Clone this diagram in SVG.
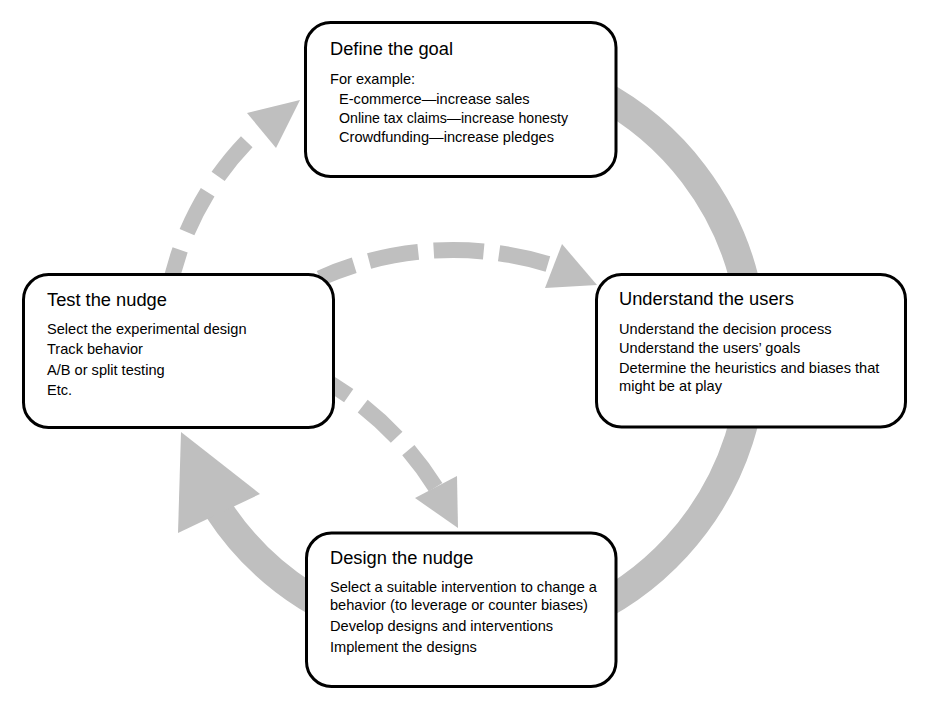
<svg xmlns="http://www.w3.org/2000/svg" width="929" height="710" viewBox="0 0 929 710">
  <style>
    .band { fill: none; stroke: #bfbfbf; stroke-width: 29; stroke-linecap: butt; }
    .dash { fill: none; stroke: #bfbfbf; stroke-width: 16; stroke-linecap: butt; }
    .head { fill: #bfbfbf; stroke: none; }
    .box { fill: #ffffff; stroke: #000000; stroke-width: 3; }
    .title { font-family: "Liberation Sans", Arial, sans-serif; font-size: 18.3px; fill: #000000; }
    .body { font-family: "Liberation Sans", Arial, sans-serif; font-size: 14.6px; fill: #000000; }
  </style>
  <rect x="0" y="0" width="929" height="710" fill="#ffffff"/>
  <g id="connectors">
    <!-- main solid cycle: Define -> Understand -> Design -> Test -->
    <path class="band" d="M 598.6 93.1 A 291 291 0 1 1 217.9 508.5"/>
    <polygon class="head" points="181,432 260,494 178,533"/>
    <!-- dashed: Test -> Define -->
    <path class="dash" d="M 260.3 128.4 A 301 301 0 0 0 167.6 297.7" stroke-dasharray="45 19" stroke-dashoffset="45"/>
    <polygon class="head" points="247,113 276,148 300,100"/>
    <!-- dashed: Test -> Understand -->
    <path class="dash" d="M 553.6 265.8 A 328 328 0 0 0 320 278.2" stroke-dasharray="50 15.5" stroke-dashoffset="59.5"/>
    <polygon class="head" points="562,244 545,288 597,285"/>
    <!-- dashed: Test -> Design -->
    <path class="dash" d="M 435.6 487.2 A 325 325 0 0 0 313.6 374" stroke-dasharray="46 17.5" stroke-dashoffset="0"/>
    <polygon class="head" points="415,498 457,476 458,528"/>
  </g>
  <g id="define">
    <rect class="box" x="305.5" y="22.5" width="310.5" height="154" rx="25" ry="25"/>
    <text class="title" x="330" y="55">Define the goal</text>
    <text class="body" x="330" y="84">For example:</text>
    <text class="body" x="339" y="103.5">E-commerce—increase sales</text>
    <text class="body" x="339" y="123" textLength="229" lengthAdjust="spacingAndGlyphs">Online tax claims—increase honesty</text>
    <text class="body" x="339" y="142">Crowdfunding—increase pledges</text>
  </g>
  <g id="test">
    <rect class="box" x="23.5" y="274.5" width="310" height="153" rx="25" ry="25"/>
    <text class="title" x="47" y="306">Test the nudge</text>
    <text class="body" x="47" y="334">Select the experimental design</text>
    <text class="body" x="47" y="354">Track behavior</text>
    <text class="body" x="47" y="374.5">A/B or split testing</text>
    <text class="body" x="47" y="395">Etc.</text>
  </g>
  <g id="understand">
    <rect class="box" x="596.5" y="274.5" width="309" height="152.5" rx="25" ry="25"/>
    <text class="title" x="619" y="305">Understand the users</text>
    <text class="body" x="619" y="334">Understand the decision process</text>
    <text class="body" x="619" y="353.3">Understand the users’ goals</text>
    <text class="body" x="619" y="372.7">Determine the heuristics and biases that</text>
    <text class="body" x="619" y="391.3">might be at play</text>
  </g>
  <g id="design">
    <rect class="box" x="306.5" y="533" width="309.5" height="153.5" rx="25" ry="25"/>
    <text class="title" x="330" y="564">Design the nudge</text>
    <text class="body" x="330" y="592">Select a suitable intervention to change a</text>
    <text class="body" x="330" y="609.5">behavior (to leverage or counter biases)</text>
    <text class="body" x="330" y="631">Develop designs and interventions</text>
    <text class="body" x="330" y="652">Implement the designs</text>
  </g>
</svg>
